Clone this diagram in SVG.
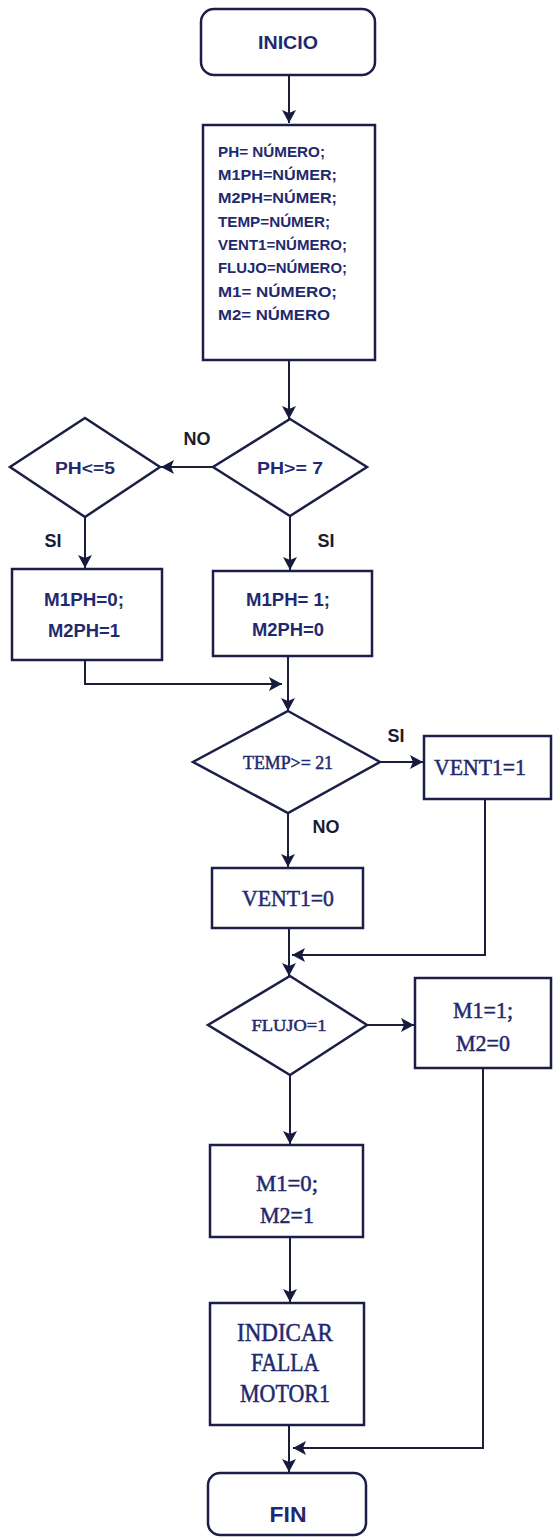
<svg xmlns="http://www.w3.org/2000/svg" width="553" height="1539" viewBox="0 0 553 1539">
<defs>
<marker id="ah" markerUnits="userSpaceOnUse" markerWidth="15" markerHeight="14" refX="13" refY="7" orient="auto">
<path d="M0,0 L13,7 L0,14 L3,7 Z" fill="#161a3c"/>
</marker>
<style>
.shape{fill:#fff;stroke:#1b1f48;stroke-width:2.5}
.conn{fill:none;stroke:#1b1d3a;stroke-width:2}
.sans{font-family:"Liberation Sans",Arial,sans-serif;font-weight:bold;fill:#1f2a6e}
.serif{font-family:"Liberation Serif","Times New Roman",serif;fill:#1f2a6e;stroke:#1f2a6e;stroke-width:0.5}
.c{text-anchor:middle}
.lbl{font-family:"Liberation Sans",Arial,sans-serif;font-weight:bold;fill:#1a1c30;font-size:18px}
</style>
</defs>
<rect width="553" height="1539" fill="#fff"/>

<g id="connectors">
<line class="conn" x1="289" y1="75" x2="289" y2="123" marker-end="url(#ah)"/>
<line class="conn" x1="289" y1="360" x2="289" y2="419" marker-end="url(#ah)"/>
<line class="conn" x1="213" y1="467" x2="161" y2="467" marker-end="url(#ah)"/>
<line class="conn" x1="85" y1="517" x2="85" y2="568" marker-end="url(#ah)"/>
<line class="conn" x1="290" y1="516" x2="290" y2="570" marker-end="url(#ah)"/>
<polyline class="conn" points="85,660 85,684 282,684" marker-end="url(#ah)"/>
<line class="conn" x1="288" y1="656" x2="288" y2="711" marker-end="url(#ah)"/>
<line class="conn" x1="380" y1="762" x2="423" y2="762" marker-end="url(#ah)"/>
<line class="conn" x1="288" y1="813" x2="288" y2="867" marker-end="url(#ah)"/>
<polyline class="conn" points="485,799 485,955 292,955" marker-end="url(#ah)"/>
<line class="conn" x1="289" y1="928" x2="289" y2="976" marker-end="url(#ah)"/>
<line class="conn" x1="367" y1="1025" x2="414" y2="1025" marker-end="url(#ah)"/>
<line class="conn" x1="290" y1="1075" x2="290" y2="1144" marker-end="url(#ah)"/>
<line class="conn" x1="290" y1="1237" x2="290" y2="1302" marker-end="url(#ah)"/>
<polyline class="conn" points="483,1068 483,1448 293,1448" marker-end="url(#ah)"/>
<line class="conn" x1="289" y1="1425" x2="289" y2="1472" marker-end="url(#ah)"/>
</g>

<g id="labels">
<text class="lbl c" x="197" y="445">NO</text>
<text class="lbl c" x="53" y="547">SI</text>
<text class="lbl c" x="326" y="547">SI</text>
<text class="lbl c" x="396" y="742">SI</text>
<text class="lbl c" x="326" y="833">NO</text>
</g>

<g id="inicio">
<rect class="shape" x="201" y="9" width="174" height="66" rx="13"/>
<text class="sans c" x="288" y="49" font-size="19" textLength="60" lengthAdjust="spacingAndGlyphs">INICIO</text>
</g>

<g id="declaraciones">
<rect class="shape" x="203" y="125" width="172" height="235" stroke="#23307a"/>
<g class="sans" font-size="15">
<text x="218" y="157" textLength="107" lengthAdjust="spacingAndGlyphs">PH= NÚMERO;</text>
<text x="218" y="180" textLength="119" lengthAdjust="spacingAndGlyphs">M1PH=NÚMER;</text>
<text x="218" y="203" textLength="119" lengthAdjust="spacingAndGlyphs">M2PH=NÚMER;</text>
<text x="218" y="227" textLength="112" lengthAdjust="spacingAndGlyphs">TEMP=NÚMER;</text>
<text x="218" y="250" textLength="129" lengthAdjust="spacingAndGlyphs">VENT1=NÚMERO;</text>
<text x="218" y="273" textLength="129" lengthAdjust="spacingAndGlyphs">FLUJO=NÚMERO;</text>
<text x="218" y="297" textLength="119" lengthAdjust="spacingAndGlyphs">M1= NÚMERO;</text>
<text x="218" y="320" textLength="112" lengthAdjust="spacingAndGlyphs">M2= NÚMERO</text>
</g>
</g>

<g id="ph7">
<polygon class="shape" points="290,419 367,467 290,516 213,467"/>
<text class="sans c" x="290" y="474" font-size="17" textLength="66" lengthAdjust="spacingAndGlyphs">PH&gt;= 7</text>
</g>

<g id="ph5">
<polygon class="shape" points="85,418 160,467 85,517 10,467"/>
<text class="sans c" x="85" y="474" font-size="16" textLength="60" lengthAdjust="spacingAndGlyphs">PH&lt;=5</text>
</g>

<g id="m1ph0">
<rect class="shape" x="12" y="569" width="150" height="91"/>
<text class="sans c" x="84" y="606" font-size="18" textLength="80" lengthAdjust="spacingAndGlyphs">M1PH=0;</text>
<text class="sans c" x="84" y="637" font-size="18" textLength="72" lengthAdjust="spacingAndGlyphs">M2PH=1</text>
</g>

<g id="m1ph1">
<rect class="shape" x="213" y="571" width="159" height="85"/>
<text class="sans c" x="288" y="606" font-size="18" textLength="84" lengthAdjust="spacingAndGlyphs">M1PH= 1;</text>
<text class="sans c" x="288" y="636" font-size="18" textLength="72" lengthAdjust="spacingAndGlyphs">M2PH=0</text>
</g>

<g id="temp">
<polygon class="shape" points="288,711 380,762 288,813 193,762"/>
<text class="serif c" x="288" y="769" font-size="19" textLength="90" lengthAdjust="spacingAndGlyphs">TEMP&gt;= 21</text>
</g>

<g id="vent1-1">
<rect class="shape" x="424" y="736" width="127" height="63"/>
<text class="serif c" x="480" y="775" font-size="23" textLength="92" lengthAdjust="spacingAndGlyphs">VENT1=1</text>
</g>

<g id="vent1-0">
<rect class="shape" x="212" y="868" width="151" height="60"/>
<text class="serif c" x="288" y="906" font-size="23" textLength="92" lengthAdjust="spacingAndGlyphs">VENT1=0</text>
</g>

<g id="flujo">
<polygon class="shape" points="290,976 367,1025 290,1075 208,1025"/>
<text class="serif c" x="289" y="1031" font-size="17" textLength="75" lengthAdjust="spacingAndGlyphs">FLUJO=1</text>
</g>

<g id="m1-1">
<rect class="shape" x="415" y="978" width="136" height="90"/>
<text class="serif c" x="483" y="1018" font-size="23" textLength="60" lengthAdjust="spacingAndGlyphs">M1=1;</text>
<text class="serif c" x="483" y="1051" font-size="23" textLength="54" lengthAdjust="spacingAndGlyphs">M2=0</text>
</g>

<g id="m1-0">
<rect class="shape" x="210" y="1145" width="153" height="92"/>
<text class="serif c" x="287" y="1191" font-size="23" textLength="62" lengthAdjust="spacingAndGlyphs">M1=0;</text>
<text class="serif c" x="287" y="1223" font-size="23" textLength="54" lengthAdjust="spacingAndGlyphs">M2=1</text>
</g>

<g id="falla">
<rect class="shape" x="210" y="1303" width="154" height="122"/>
<text class="serif c" x="285" y="1341" font-size="25" textLength="96" lengthAdjust="spacingAndGlyphs">INDICAR</text>
<text class="serif c" x="285" y="1371" font-size="25" textLength="68" lengthAdjust="spacingAndGlyphs">FALLA</text>
<text class="serif c" x="285" y="1402" font-size="25" textLength="90" lengthAdjust="spacingAndGlyphs">MOTOR1</text>
</g>

<g id="fin">
<rect class="shape" x="208" y="1473" width="158" height="62" rx="12"/>
<text class="sans c" x="288" y="1522" font-size="22" textLength="37" lengthAdjust="spacingAndGlyphs">FIN</text>
</g>
</svg>
